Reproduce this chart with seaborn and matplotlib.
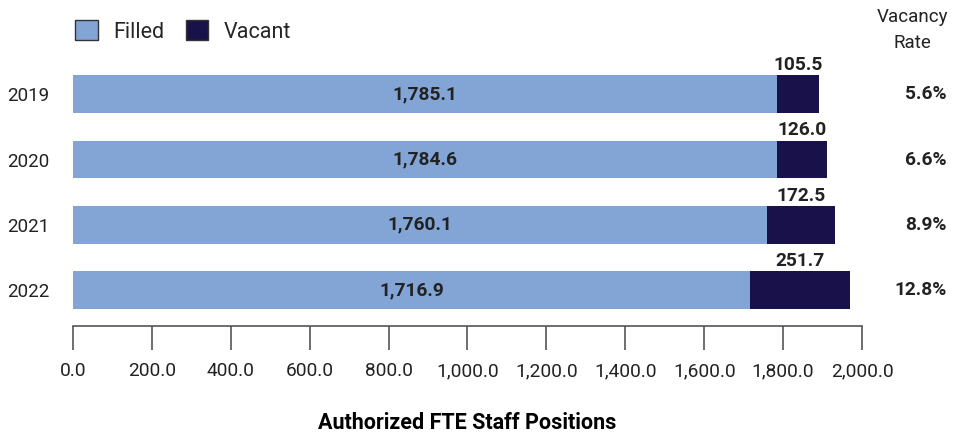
import pandas as pd
import seaborn as sns
import matplotlib.pyplot as plt
from matplotlib.patches import Patch

years = ["2019", "2020", "2021", "2022"]
filled = [1785.1, 1784.6, 1760.1, 1716.9]
vacant = [105.5, 126.0, 172.5, 251.7]
vacancy_rate = ["5.6%", "6.6%", "8.9%", "12.8%"]
x_ticks = [0, 200, 400, 600, 800, 1000, 1200, 1400, 1600, 1800, 2000]

FILLED_COLOR = "#82A5D5"
VACANT_COLOR = "#19124A"
TEXT_COLOR = "#222222"

sns.set_theme(style="white")
plt.rcParams["font.family"] = ["Roboto", "DejaVu Sans"]

df = pd.DataFrame({"year": years, "filled": filled, "vacant": vacant})
df["total"] = df["filled"] + df["vacant"]

fig = plt.figure(figsize=(9.67, 4.33), dpi=100)
ax = fig.add_axes([0.0755, 0.247, 0.8159, 0.641])

# stacked bars: total in the vacant colour, filled drawn over it
sns.barplot(data=df, x="total", y="year", color=VACANT_COLOR, orient="h",
            width=0.58, saturation=1, linewidth=0, ax=ax)
sns.barplot(data=df, x="filled", y="year", color=FILLED_COLOR, orient="h",
            width=0.58, saturation=1, linewidth=0, ax=ax)

for i, row in df.iterrows():
    ax.text(row["filled"] / 2, i, f"{row['filled']:,.1f}", ha="center", va="center",
            fontsize=13.8, fontweight="bold", color=TEXT_COLOR)
    ax.text(row["filled"] + row["vacant"] / 2, i - 0.31, f"{row['vacant']:,.1f}",
            ha="center", va="bottom", fontsize=13.8, fontweight="bold", color=TEXT_COLOR)
    ax.text(2215, i, vacancy_rate[i], ha="right", va="center", fontsize=13.8,
            fontweight="bold", color=TEXT_COLOR)

ax.text(2127, -0.64, "Vacancy\nRate", ha="center", va="bottom", fontsize=13.5,
        color=TEXT_COLOR, linespacing=1.6)

ax.set_xlim(0, 2000)
ax.set_ylim(3.55, -0.7)
ax.set_xticks(x_ticks)
ax.set_xticklabels([f"{t:,.1f}" for t in x_ticks], fontsize=13.8, color=TEXT_COLOR)
ax.tick_params(axis="x", direction="out", length=17, width=1.2, color="#555555", pad=9,
               bottom=True)
ax.tick_params(axis="y", length=0, labelsize=13.5, labelcolor=TEXT_COLOR, pad=17)
ax.set_ylabel("")
ax.set_xlabel("Authorized FTE Staff Positions", fontsize=15.5, fontweight="bold",
              color="black", labelpad=23)

for side in ["top", "right", "left"]:
    ax.spines[side].set_visible(False)
ax.spines["bottom"].set_color("#555555")
ax.spines["bottom"].set_linewidth(1.2)

handles = [Patch(facecolor=FILLED_COLOR, edgecolor="#333333", label="Filled"),
           Patch(facecolor=VACANT_COLOR, edgecolor="#333333", label="Vacant")]
fig.legend(handles=handles, loc="upper left", bbox_to_anchor=(0.058, 0.998), ncol=2,
           frameon=False, fontsize=15.5, handlelength=1.05, handleheight=1.05,
           columnspacing=1.0, handletextpad=0.7)

fig.savefig("out.png", dpi=100)
